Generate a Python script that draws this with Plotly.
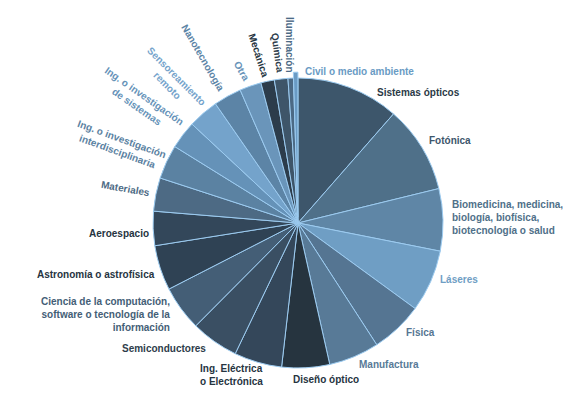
import plotly.graph_objects as go

categories = [
    "Sistemas ópticos", "Fotónica",
    "Biomedicina, medicina, biología, biofísica, biotecnología o salud",
    "Láseres", "Física", "Manufactura", "Diseño óptico",
    "Ing. Eléctrica o Electrónica", "Semiconductores",
    "Ciencia de la computación, software o tecnología de la información",
    "Astronomía o astrofísica", "Aeroespacio", "Materiales",
    "Ing. o investigación interdisciplinaria",
    "Ing. o investigación de sistemas", "Sensoreamiento remoto",
    "Nanotecnología", "Otra", "Mecánica", "Química", "Iluminación",
    "Civil o medio ambiente",
]
values = [11.4, 9.7, 6.9, 6.9, 5.8, 5.6, 5.3, 5.3, 5.3, 5.0, 5.0, 3.8, 3.7,
          3.8, 3.1, 3.4, 3.1, 2.4, 1.5, 1.5, 0.6, 0.5]
label_texts = [
    "Sistemas ópticos", "Fotónica",
    "Biomedicina, medicina,<br>biología, biofísica,<br>biotecnología o salud",
    "Láseres", "Física", "Manufactura", "Diseño óptico",
    "Ing. Eléctrica<br>o Electrónica", "Semiconductores",
    "Ciencia de la computación,<br>software o tecnología de la<br>información",
    "Astronomía o astrofísica", "Aeroespacio", "Materiales",
    "Ing. o investigación<br>interdisciplinaria",
    "Ing. o investigación<br>de sistemas", "Sensoreamiento<br>remoto",
    "Nanotecnología", "Otra", "Mecánica", "Química", "Iluminación",
    "Civil o medio ambiente",
]

colors = ["#3d566b", "#4f7089", "#5f86a6", "#6f9ec4", "#557592", "#587a97",
          "#26343f", "#34475a", "#3a4f63", "#445e76", "#2f4254", "#33475a",
          "#4d6a84", "#5b82a2", "#6592b8", "#74a3cb", "#5c84a6", "#6a95ba",
          "#2c3c4b", "#3e5569", "#4c6a85", "#6a9bc4"]
text_colors = ["#2b3a47", "#3d566b", "#4f7089", "#6f9ec4", "#557592", "#587a97",
               "#26343f", "#26343f", "#2e3d4b", "#445e76", "#26343f", "#26343f",
               "#4d6a84", "#5b82a2", "#6592b8", "#74a3cb", "#5c84a6", "#6a95ba",
               "#26343f", "#2e3d4b", "#4c6a85", "#6a9bc4"]
pulls = [0] * 21 + [0.04]

# label layout (page pixel positions, anchors, angles)
lab_pos = [
    (375, 92, "left", "middle", 0, "left"),
    (427, 140, "left", "middle", 0, "left"),
    (450, 218, "left", "middle", 0, "left"),
    (438, 279, "left", "middle", 0, "left"),
    (404, 332, "left", "middle", 0, "left"),
    (357, 364, "left", "middle", 0, "left"),
    (291, 379, "left", "middle", 0, "left"),
    (198, 375, "left", "middle", 0, "left"),
    (208, 348, "right", "middle", 0, "right"),
    (172, 314, "right", "middle", 0, "right"),
    (157, 274, "right", "middle", 0, "right"),
    (151, 233, "right", "middle", 0, "right"),
    (125, 188, "center", "middle", 10, "center"),
    (119, 145, "center", "middle", 20, "center"),
    (140, 101, "center", "middle", 35, "center"),
    (172, 81, "center", "middle", 45, "center"),
    (203, 57, "center", "middle", 60, "center"),
    (241, 71, "center", "middle", 60, "center"),
    (258, 55, "center", "middle", 72, "center"),
    (277, 53, "center", "middle", 82, "center"),
    (290, 45, "center", "middle", 90, "center"),
    (303, 72, "left", "middle", 0, "left"),
]

W, H = 583, 395
OFF = 8  # page body margin
cx, cy, R = 298 - OFF, 223 - OFF, 145
half = R * (1 + max(pulls))

fig = go.Figure(go.Pie(
    labels=categories, values=values, sort=False, direction="clockwise",
    rotation=0, textinfo="none", hoverinfo="label+percent", pull=pulls,
    marker=dict(colors=colors, line=dict(color="#9ccbf0", width=1)),
    domain=dict(x=[(cx - half) / W, (cx + half) / W],
                y=[(H - cy - half) / H, (H - cy + half) / H]),
    showlegend=False,
))

annotations = []
for txt, col, (px, py, xa, ya, ang, al) in zip(label_texts, text_colors, lab_pos):
    annotations.append(dict(
        x=(px - OFF) / W, y=1 - (py - OFF) / H, xref="paper", yref="paper",
        text="<b>" + txt.replace("<br>", "</b><br><b>") + "</b>",
        showarrow=False, xanchor=xa, yanchor=ya, textangle=ang, align=al,
        font=dict(family="Liberation Sans", size=10, color=col),
    ))

fig.update_layout(
    width=W, height=H, margin=dict(l=0, r=0, t=0, b=0),
    paper_bgcolor="white", plot_bgcolor="white",
    annotations=annotations,
)
fig.write_html("out.html")
